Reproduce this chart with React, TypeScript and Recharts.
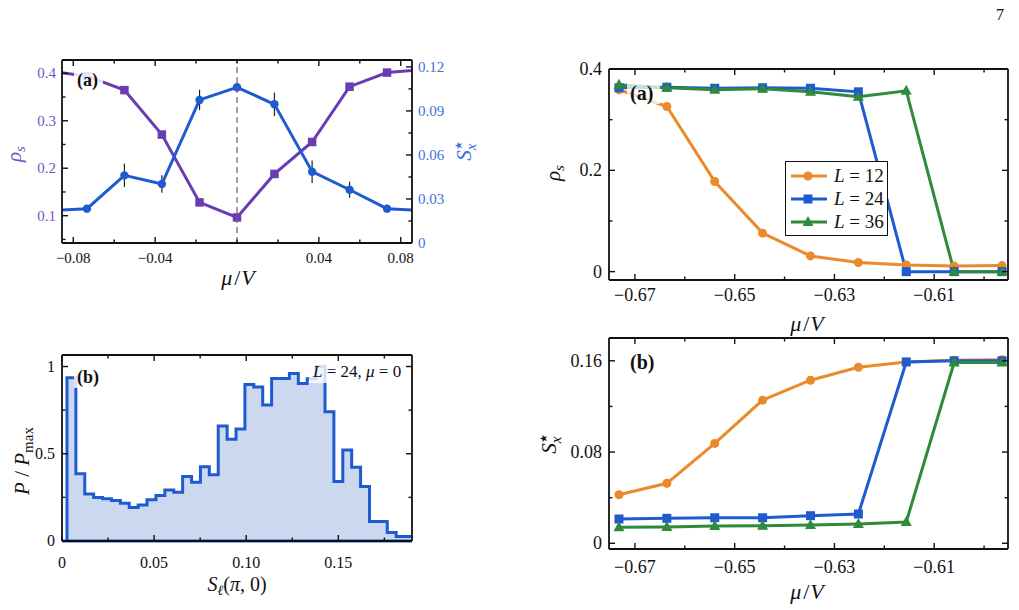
import React from 'react';
import { LineChart, AreaChart, Line, Area, XAxis, YAxis, ReferenceLine, ErrorBar, Legend } from 'recharts';

const FONT = '"Liberation Serif", "DejaVu Serif", serif';

const PURPLE = '#6a3cb4';
const PURPLE_TEXT = '#7b4fc8';
const BLUE = '#1f5bd0';
const BLUE_TEXT = '#3a73d9';
const ORANGE = '#ea8a2a';
const GREEN = '#2f8a3a';
const HIST_FILL = '#ccd8f0';

// ---------- left figure (a): superfluid density and S_x* across mu = 0
const MU_SWEEP = [-0.0917, -0.0733, -0.055, -0.0367, -0.0183, 0, 0.0183, 0.0367, 0.055, 0.0733, 0.0917];
const RHO_SWEEP = [0.405, 0.394, 0.3646, 0.271, 0.128, 0.0964, 0.188, 0.2553, 0.3718, 0.4015, 0.408];
const SX_SWEEP = [0.022, 0.0234, 0.0461, 0.0402, 0.0975, 0.1061, 0.0945, 0.0486, 0.0363, 0.0234, 0.022];
const SX_SWEEP_ERR = [0.001, 0.001, 0.008, 0.006, 0.007, 0.003, 0.008, 0.0077, 0.0055, 0.0012, 0.001];

const A_X_TICKS = [-0.08, -0.06, -0.04, -0.02, 0, 0.02, 0.04, 0.06, 0.08];
const A_X_LABELS = [-0.08, -0.04, 0.04, 0.08];
const A_RHO_TICKS = [0.05, 0.1, 0.15, 0.2, 0.25, 0.3, 0.35, 0.4];
const A_RHO_LABELS = [0.1, 0.2, 0.3, 0.4];
const A_SX_TICKS = [0, 0.015, 0.03, 0.045, 0.06, 0.075, 0.09, 0.105, 0.12];
const A_SX_LABELS = [0, 0.03, 0.06, 0.09, 0.12];

// ---------- left figure (b): histogram of S_l(pi,0), L = 24, mu = 0
const HIST_EDGES = [
  0.0027, 0.00753, 0.01236, 0.01719, 0.02202, 0.02685, 0.03168, 0.03651, 0.04134, 0.04617,
  0.051, 0.05583, 0.06066, 0.06549, 0.07032, 0.07515, 0.07998, 0.08481, 0.08964, 0.09447,
  0.0993, 0.10413, 0.10896, 0.11379, 0.11862, 0.12345, 0.12828, 0.13311, 0.13794, 0.14277,
  0.1476, 0.15243, 0.15726, 0.16209, 0.16692, 0.17175, 0.17658, 0.18141, 0.18624, 0.19,
];
const HIST_COUNTS = [
  0.935, 0.385, 0.269, 0.249, 0.242, 0.232, 0.217, 0.192, 0.207, 0.236,
  0.261, 0.293, 0.28, 0.369, 0.337, 0.426, 0.379, 0.659, 0.583, 0.642,
  0.897, 0.883, 0.779, 0.931, 0.931, 0.96, 0.903, 0.93, 1.0, 0.741,
  0.341, 0.522, 0.423, 0.312, 0.112, 0.112, 0.049, 0.026, 0.026,
];
const B_X_TICKS = [0, 0.025, 0.05, 0.075, 0.1, 0.125, 0.15, 0.175];
const B_X_LABELS = [0, 0.05, 0.1, 0.15];
const B_Y_TICKS = [0, 0.25, 0.5, 0.75, 1];
const B_Y_LABELS = [0, 0.5, 1];

// ---------- right figure: transition for three system sizes
const MU_SCAN = [-0.6732, -0.6636, -0.654, -0.6444, -0.6348, -0.6252, -0.6156, -0.606, -0.5964];
const SYSTEM_SIZES = [12, 24, 36];
const RHO_L12 = [0.359, 0.326, 0.178, 0.076, 0.031, 0.018, 0.013, 0.011, 0.012];
const RHO_L24 = [0.363, 0.364, 0.362, 0.363, 0.362, 0.355, 0, 0, 0];
const RHO_L36 = [0.369, 0.363, 0.359, 0.361, 0.355, 0.345, 0.357, 0, 0];
const SX_L12 = [0.0426, 0.0526, 0.0876, 0.1255, 0.143, 0.1544, 0.159, 0.1605, 0.161];
const SX_L12_ERR = [0, 0.003, 0.0035, 0, 0, 0, 0, 0, 0];
const SX_L24 = [0.0213, 0.0219, 0.0224, 0.0224, 0.0242, 0.0257, 0.159, 0.16, 0.16];
const SX_L36 = [0.014, 0.0143, 0.0152, 0.0154, 0.016, 0.0169, 0.0187, 0.1585, 0.1585];

const R_X_TICKS = [-0.67, -0.66, -0.65, -0.64, -0.63, -0.62, -0.61, -0.6];
const R_X_LABELS = [-0.67, -0.65, -0.63, -0.61];
const C_Y_TICKS = [0, 0.1, 0.2, 0.3, 0.4];
const C_Y_LABELS = [0, 0.2, 0.4];
const D_Y_TICKS = [0, 0.04, 0.08, 0.12, 0.16];
const D_Y_LABELS = [0, 0.08, 0.16];

// ---------- tables built from the arrays
const sweepData = MU_SWEEP.map((mu, i) => ({ mu, rho: RHO_SWEEP[i], sx: SX_SWEEP[i], sxErr: SX_SWEEP_ERR[i] }));

const histData = [
  { s: HIST_EDGES[0], p: 0 },
  ...HIST_COUNTS.map((p, i) => ({ s: HIST_EDGES[i], p })),
  { s: HIST_EDGES[HIST_EDGES.length - 1], p: HIST_COUNTS[HIST_COUNTS.length - 1] },
];

const scanData = MU_SCAN.map((mu, i) => ({
  mu,
  rho12: RHO_L12[i], rho24: RHO_L24[i], rho36: RHO_L36[i],
  sx12: SX_L12[i], sx12Err: SX_L12_ERR[i], sx24: SX_L24[i], sx36: SX_L36[i],
}));

// ---------- framed axes with inward ticks
type Side = 'left' | 'right' | 'top' | 'bottom';
interface TickStyle {
  side: Side;
  major: number[];
  labels?: number[];
  fmt?: (v: number) => string;
  color?: string;
  size?: number;
  gap?: number;
}
const has = (list: number[] | undefined, v: number) => !!list && list.some((u) => Math.abs(u - v) < 1e-9);
const dec = (n: number) => (v: number) => (v === 0 ? '0' : (v < 0 ? '\u2212' : '') + Math.abs(v).toFixed(n));

const frameTick = (s: TickStyle) => (p: any) => {
  const v = Number(p.payload.value);
  const x = p.x as number;
  const y = p.y as number;
  const len = has(s.major, v) ? 6 : 3.5;
  const size = s.size ?? 15;
  const gap = s.gap ?? 6;
  const txt = has(s.labels, v) ? (s.fmt ?? dec(2))(v) : null;
  const tp = { fill: s.color ?? '#111', fontSize: size, fontFamily: FONT, stroke: 'none' };
  let tick: React.ReactNode = null;
  let label: React.ReactNode = null;
  if (s.side === 'bottom') {
    tick = <line x1={x} y1={y} x2={x} y2={y - len} />;
    if (txt) label = <text x={x} y={y + gap} textAnchor="middle" {...tp}>{txt}</text>;
  } else if (s.side === 'top') {
    tick = <line x1={x} y1={y} x2={x} y2={y + len} />;
  } else if (s.side === 'left') {
    tick = <line x1={x} y1={y} x2={x + len} y2={y} />;
    if (txt) label = <text x={x - gap} y={y + size * 0.34} textAnchor="end" {...tp}>{txt}</text>;
  } else {
    tick = <line x1={x} y1={y} x2={x - len} y2={y} />;
    if (txt) label = <text x={x + gap} y={y + size * 0.34} textAnchor="start" {...tp}>{txt}</text>;
  }
  return (
    <g>
      <g stroke="#111" strokeWidth={1.4}>{tick}</g>
      {label}
    </g>
  );
};

const AXIS = { stroke: '#111', strokeWidth: 1.8 };
const axisBase = { tickSize: 0, tickMargin: 0, axisLine: AXIS, interval: 0 as const, allowDataOverflow: true, type: 'number' as const };
const bareAxis = { tickSize: 0, tickMargin: 0, axisLine: false, tick: false, allowDataOverflow: true, type: 'number' as const };

// ---------- markers
const squareDot = (size: number, fill: string) => (p: any) =>
  p.cx == null || p.cy == null ? <g key={`sq${p.index}`} /> : (
    <rect key={`sq${p.index}`} x={p.cx - size / 2} y={p.cy - size / 2} width={size} height={size} fill={fill} />
  );
const triangleDot = (size: number, fill: string) => (p: any) =>
  p.cx == null || p.cy == null ? <g key={`tr${p.index}`} /> : (
    <polygon
      key={`tr${p.index}`}
      points={`${p.cx},${p.cy - size * 0.6} ${p.cx - size * 0.55},${p.cy + size * 0.4} ${p.cx + size * 0.55},${p.cy + size * 0.4}`}
      fill={fill}
    />
  );

const markerGlyph = (shape: string, cx: number, cy: number, color: string) => {
  if (shape === 'square') return <rect x={cx - 4.5} y={cy - 4.5} width={9} height={9} fill={color} />;
  if (shape === 'triangle') return <polygon points={`${cx},${cy - 6} ${cx - 5.5},${cy + 4} ${cx + 5.5},${cy + 4}`} fill={color} />;
  return <circle cx={cx} cy={cy} r={4.5} fill={color} />;
};

const SHAPE_BY_KEY: Record<string, string> = { rho12: 'circle', rho24: 'square', rho36: 'triangle' };

const sizeLegend = (props: any) => {
  const payload = props.payload ?? [];
  return (
    <div style={{ border: '1.5px solid #111', background: '#fff', padding: '2px 0 2px 5px', width: 103, fontFamily: FONT, fontSize: 19, boxSizing: 'border-box' }}>
      {payload.map((e: any) => (
        <div key={String(e.dataKey)} style={{ display: 'flex', alignItems: 'center', height: 23 }}>
          <svg width={36} height={14} style={{ display: 'block' }}>
            <line x1={0} y1={7} x2={36} y2={7} stroke={e.color} strokeWidth={3} />
            {markerGlyph(SHAPE_BY_KEY[String(e.dataKey)] ?? 'circle', 17, 7, e.color)}
          </svg>
          <span style={{ marginLeft: 7, color: '#111', whiteSpace: 'nowrap' }}>
            <i>L</i> = {e.value}
          </span>
        </div>
      ))}
    </div>
  );
};

// ---------- panels
const A_W = 500;
const A_H = 300;
const A_MARGIN = { top: 59, left: 22, right: 48, bottom: 27 };
const A_MU_DOMAIN: [number, number] = [-0.0855, 0.0855];
const A_RHO_DOMAIN: [number, number] = [0.0425, 0.428];
const A_SX_DOMAIN: [number, number] = [0, 0.1247];

function SweepPanel() {
  return (
    <div style={{ position: 'absolute', left: 0, top: 0, width: A_W, height: A_H }}>
      {/* curves, clipped to the plotting box since both ends run past the axis range */}
      <div style={{ position: 'absolute', left: 0, top: 0, clipPath: 'inset(60px 88px 57px 62px)' }}>
        <LineChart width={A_W} height={A_H} data={sweepData} margin={A_MARGIN}>
          <XAxis {...bareAxis} xAxisId="b" dataKey="mu" domain={A_MU_DOMAIN} height={30} />
          <XAxis {...bareAxis} xAxisId="t" orientation="top" dataKey="mu" domain={A_MU_DOMAIN} height={1} />
          <YAxis {...bareAxis} yAxisId="l" domain={A_RHO_DOMAIN} width={40} />
          <YAxis {...bareAxis} yAxisId="r" orientation="right" domain={A_SX_DOMAIN} width={40} />
          <Line xAxisId="b" yAxisId="l" dataKey="rho" stroke={PURPLE} strokeWidth={3} isAnimationActive={false}
            dot={squareDot(8.5, PURPLE)} activeDot={false} />
          <Line xAxisId="b" yAxisId="r" dataKey="sx" stroke={BLUE} strokeWidth={3} isAnimationActive={false}
            dot={{ r: 4.2, fill: BLUE, stroke: BLUE, strokeWidth: 0 }} activeDot={false}>
            <ErrorBar dataKey="sxErr" width={0} stroke="#222" strokeWidth={1.2} direction="y" />
          </Line>
        </LineChart>
      </div>
      {/* frame, ticks and the mu = 0 guide */}
      <div style={{ position: 'absolute', left: 0, top: 0 }}>
        <LineChart width={A_W} height={A_H} data={sweepData} margin={A_MARGIN}>
          <XAxis {...axisBase} xAxisId="b" dataKey="mu" domain={A_MU_DOMAIN} ticks={A_X_TICKS} height={30}
            tick={frameTick({ side: 'bottom', major: A_X_LABELS, labels: A_X_LABELS, fmt: dec(2), size: 15, gap: 20 })} />
          <XAxis {...axisBase} xAxisId="t" orientation="top" dataKey="mu" domain={A_MU_DOMAIN} ticks={A_X_TICKS} height={1}
            tick={frameTick({ side: 'top', major: A_X_LABELS })} />
          <YAxis {...axisBase} yAxisId="l" domain={A_RHO_DOMAIN} ticks={A_RHO_TICKS} width={40}
            tick={frameTick({ side: 'left', major: A_RHO_LABELS, labels: A_RHO_LABELS, fmt: dec(1), color: PURPLE_TEXT, size: 15, gap: 6 })} />
          <YAxis {...axisBase} yAxisId="r" orientation="right" domain={A_SX_DOMAIN} ticks={A_SX_TICKS} width={40}
            tick={frameTick({ side: 'right', major: A_SX_LABELS, labels: A_SX_LABELS, fmt: dec(2), color: BLUE_TEXT, size: 15, gap: 6 })} />
          <ReferenceLine xAxisId="b" yAxisId="l" x={0} stroke="#666" strokeWidth={1.2} strokeDasharray="6 4" />
        </LineChart>
      </div>
    </div>
  );
}

function HistogramPanel() {
  return (
    <div style={{ position: 'absolute', left: 0, top: 300 }}>
      <AreaChart width={500} height={310} data={histData} margin={{ top: 54, left: 22, right: 48, bottom: 39 }}>
        <XAxis {...axisBase} xAxisId="b" dataKey="s" domain={[0, 0.19]} ticks={B_X_TICKS} height={30}
          tick={frameTick({ side: 'bottom', major: B_X_LABELS, labels: B_X_LABELS, fmt: dec(2), size: 16, gap: 27 })} />
        <XAxis {...axisBase} xAxisId="t" orientation="top" dataKey="s" domain={[0, 0.19]} ticks={B_X_TICKS} height={1}
          tick={frameTick({ side: 'top', major: B_X_LABELS })} />
        <YAxis {...axisBase} yAxisId="l" domain={[0, 1.066]} ticks={B_Y_TICKS} width={40}
          tick={frameTick({ side: 'left', major: B_Y_LABELS, labels: B_Y_LABELS, fmt: (v) => (v === 0 || v === 1 ? String(v) : v.toFixed(1)), size: 16, gap: 7 })} />
        <YAxis {...axisBase} yAxisId="r" orientation="right" domain={[0, 1.066]} ticks={B_Y_TICKS} width={40}
          tick={frameTick({ side: 'right', major: B_Y_LABELS })} />
        <Area xAxisId="b" yAxisId="l" dataKey="p" type="stepAfter" stroke={BLUE} strokeWidth={3} fill={HIST_FILL}
          fillOpacity={1} isAnimationActive={false} dot={false} activeDot={false} strokeLinejoin="miter" />
        <ReferenceLine xAxisId="b" yAxisId="l" y={0} stroke={BLUE} strokeWidth={3} />
      </AreaChart>
    </div>
  );
}

function RhoScanPanel() {
  return (
    <div style={{ position: 'absolute', left: 500, top: 0 }}>
      <LineChart width={519} height={310} data={scanData} margin={{ top: 68, left: 69, right: 10, bottom: 0 }}>
        <XAxis {...axisBase} xAxisId="b" dataKey="mu" domain={[-0.6752, -0.5952]} ticks={R_X_TICKS} height={30}
          tick={frameTick({ side: 'bottom', major: R_X_LABELS, labels: R_X_LABELS, fmt: dec(2), size: 18, gap: 21 })} />
        <XAxis {...axisBase} xAxisId="t" orientation="top" dataKey="mu" domain={[-0.6752, -0.5952]} ticks={R_X_TICKS} height={1}
          tick={frameTick({ side: 'top', major: R_X_LABELS })} />
        <YAxis {...axisBase} yAxisId="l" domain={[-0.0165, 0.4]} ticks={C_Y_TICKS} width={40}
          tick={frameTick({ side: 'left', major: C_Y_LABELS, labels: C_Y_LABELS, fmt: dec(1), size: 18, gap: 7 })} />
        <YAxis {...axisBase} yAxisId="r" orientation="right" domain={[-0.0165, 0.4]} ticks={C_Y_TICKS} width={1}
          tick={frameTick({ side: 'right', major: C_Y_LABELS })} />
        <Line xAxisId="b" yAxisId="l" dataKey="rho12" name={String(SYSTEM_SIZES[0])} stroke={ORANGE} strokeWidth={3}
          isAnimationActive={false} dot={{ r: 4.5, fill: ORANGE, stroke: ORANGE, strokeWidth: 0 }} activeDot={false} />
        <Line xAxisId="b" yAxisId="l" dataKey="rho24" name={String(SYSTEM_SIZES[1])} stroke={BLUE} strokeWidth={3}
          isAnimationActive={false} dot={squareDot(9, BLUE)} activeDot={false} />
        <Line xAxisId="b" yAxisId="l" dataKey="rho36" name={String(SYSTEM_SIZES[2])} stroke={GREEN} strokeWidth={3}
          isAnimationActive={false} dot={triangleDot(10, GREEN)} activeDot={false} />
        <Legend layout="horizontal" align="center" verticalAlign="middle" content={sizeLegend}
          wrapperStyle={{ position: 'absolute', left: 285, top: 161, width: 103 }} />
      </LineChart>
    </div>
  );
}

function SxScanPanel() {
  return (
    <div style={{ position: 'absolute', left: 500, top: 310 }}>
      <LineChart width={519} height={300} data={scanData} margin={{ top: 27, left: 69, right: 10, bottom: 31 }}>
        <XAxis {...axisBase} xAxisId="b" dataKey="mu" domain={[-0.6752, -0.5952]} ticks={R_X_TICKS} height={30}
          tick={frameTick({ side: 'bottom', major: R_X_LABELS, labels: R_X_LABELS, fmt: dec(2), size: 18, gap: 24 })} />
        <XAxis {...axisBase} xAxisId="t" orientation="top" dataKey="mu" domain={[-0.6752, -0.5952]} ticks={R_X_TICKS} height={1}
          tick={frameTick({ side: 'top', major: R_X_LABELS })} />
        <YAxis {...axisBase} yAxisId="l" domain={[-0.005, 0.18]} ticks={D_Y_TICKS} width={40}
          tick={frameTick({ side: 'left', major: D_Y_LABELS, labels: D_Y_LABELS, fmt: dec(2), size: 18, gap: 7 })} />
        <YAxis {...axisBase} yAxisId="r" orientation="right" domain={[-0.005, 0.18]} ticks={D_Y_TICKS} width={1}
          tick={frameTick({ side: 'right', major: D_Y_LABELS })} />
        <Line xAxisId="b" yAxisId="l" dataKey="sx12" stroke={ORANGE} strokeWidth={3} isAnimationActive={false}
          dot={{ r: 4.5, fill: ORANGE, stroke: ORANGE, strokeWidth: 0 }} activeDot={false}>
          <ErrorBar dataKey="sx12Err" width={0} stroke="#333" strokeWidth={1.2} direction="y" />
        </Line>
        <Line xAxisId="b" yAxisId="l" dataKey="sx24" stroke={BLUE} strokeWidth={3} isAnimationActive={false}
          dot={squareDot(9, BLUE)} activeDot={false} />
        <Line xAxisId="b" yAxisId="l" dataKey="sx36" stroke={GREEN} strokeWidth={3} isAnimationActive={false}
          dot={triangleDot(10, GREEN)} activeDot={false} />
      </LineChart>
    </div>
  );
}

// ---------- titles, panel letters and annotations
const T = { fontFamily: FONT, fill: '#111' };

const MuOverV = ({ x, y }: { x: number; y: number }) => (
  <text x={x} y={y} fontSize={22} textAnchor="middle" {...T}>
    <tspan fontStyle="italic">μ</tspan><tspan dx={2}>/</tspan><tspan fontStyle="italic" dx={1}>V</tspan>
  </text>
);

function Annotations() {
  return (
    <svg width={1019} height={610} style={{ position: 'absolute', left: 0, top: 0, pointerEvents: 'none' }}>
      <text x={1000} y={20} textAnchor="middle" fontSize={16} {...T}>7</text>

      {/* left (a) */}
      <rect x={74} y={70} width={29} height={21} fill="#fff" fillOpacity={0.85} />
      <text x={77} y={86} fontSize={18} fontWeight="bold" {...T}>(a)</text>
      <MuOverV x={238} y={285} />
      <text x={21} y={154} fontSize={21} textAnchor="middle" transform="rotate(-90 21 154)" {...T} fill={PURPLE_TEXT}>
        <tspan fontStyle="italic">ρ</tspan><tspan fontStyle="italic" fontSize={15} dy={4}>s</tspan>
      </text>
      <text x={471} y={151} fontSize={21} textAnchor="middle" transform="rotate(-90 471 151)" {...T} fill={BLUE_TEXT}>
        <tspan fontStyle="italic">S</tspan><tspan fontSize={10} dy={-9}>★</tspan>
        <tspan fontStyle="italic" fontSize={15} dx={-9} dy={14}>x</tspan>
      </text>

      {/* left (b) */}
      <rect x={74} y={366} width={30} height={22} fill="#fff" fillOpacity={0.8} />
      <text x={77} y={383} fontSize={18} fontWeight="bold" {...T}>(b)</text>
      <rect x={309} y={362} width={93} height={21} fill="#fff" fillOpacity={0.8} />
      <text x={313} y={377} fontSize={17} {...T}>
        <tspan fontStyle="italic">L</tspan> = 24,  <tspan fontStyle="italic">μ</tspan> = 0
      </text>
      <text x={237} y={591} fontSize={20} textAnchor="middle" {...T}>
        <tspan fontStyle="italic">S</tspan><tspan fontStyle="italic" fontSize={14} dy={4}>ℓ</tspan>
        <tspan dy={-4}>(</tspan><tspan fontStyle="italic">π</tspan>, 0)
      </text>
      <text x={29} y={461} fontSize={21} textAnchor="middle" transform="rotate(-90 29 461)" {...T}>
        <tspan fontStyle="italic">P</tspan> / <tspan fontStyle="italic">P</tspan><tspan fontSize={15} dy={4}>max</tspan>
      </text>

      {/* right (a) */}
      <rect x={627} y={81} width={33} height={23} fill="#fff" fillOpacity={0.75} />
      <text x={630} y={100} fontSize={20} fontWeight="bold" {...T}>(a)</text>
      <text x={560} y={173} fontSize={21} textAnchor="middle" transform="rotate(-90 560 173)" {...T}>
        <tspan fontStyle="italic">ρ</tspan><tspan fontStyle="italic" fontSize={15} dy={4}>s</tspan>
      </text>
      <MuOverV x={807} y={331} />

      {/* right (b) */}
      <text x={630} y={369} fontSize={20} fontWeight="bold" {...T}>(b)</text>
      <text x={556} y={444} fontSize={21} textAnchor="middle" transform="rotate(-90 556 444)" {...T}>
        <tspan fontStyle="italic">S</tspan><tspan fontSize={10} dy={-9}>★</tspan>
        <tspan fontStyle="italic" fontSize={15} dx={-9} dy={14}>x</tspan>
      </text>
      <MuOverV x={807} y={599} />
    </svg>
  );
}

export default function App() {
  return (
    <div style={{ position: 'absolute', left: 0, top: 0, width: 1019, height: 610, background: '#fff', fontFamily: FONT }}>
      <SweepPanel />
      <HistogramPanel />
      <RhoScanPanel />
      <SxScanPanel />
      <Annotations />
    </div>
  );
}
